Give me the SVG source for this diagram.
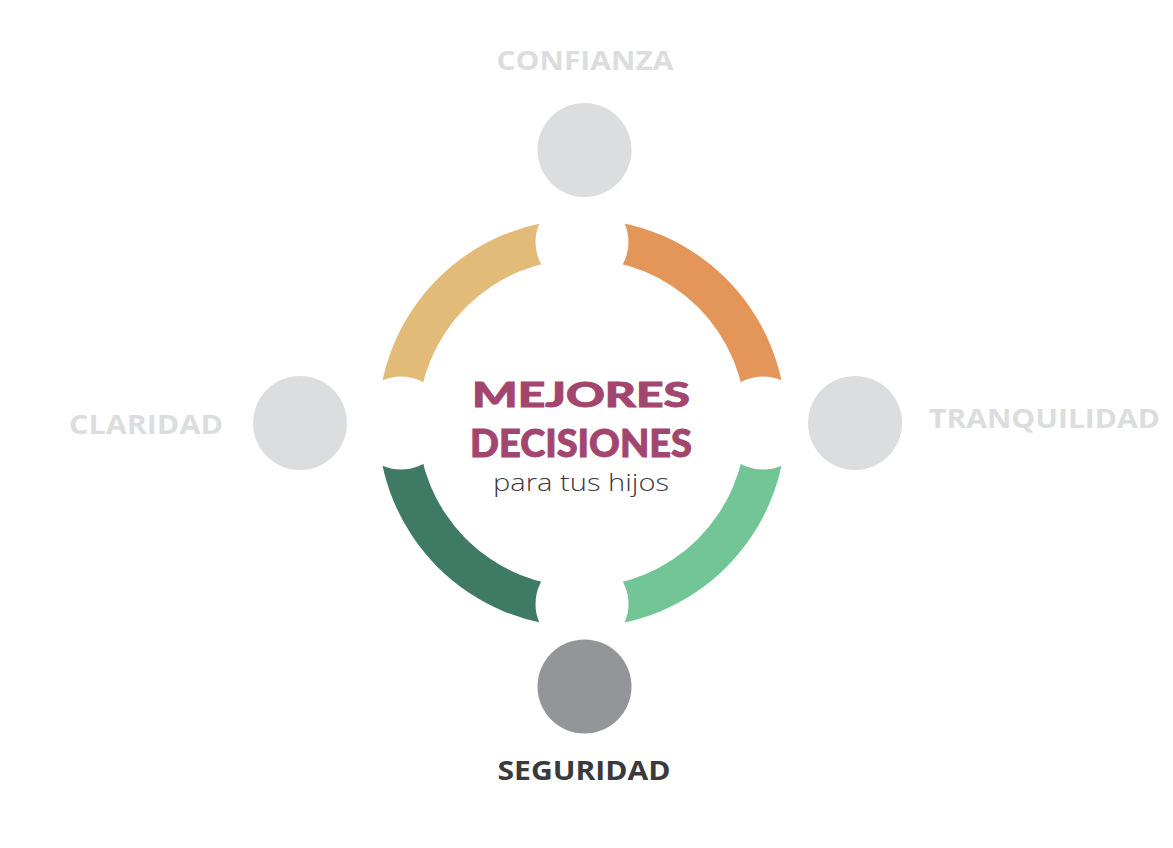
<svg xmlns="http://www.w3.org/2000/svg" width="1173" height="848" viewBox="0 0 1173 848">
<style>
.lbl{font-family:"Open Sans","Liberation Sans",sans-serif;font-weight:700;font-size:27px;text-anchor:middle}
.light{fill:#dcdddf}
.dark{fill:#3a3a3c}
.title{font-family:Lato,"Open Sans","Liberation Sans",sans-serif;font-weight:900;fill:#a3466f;stroke:#a3466f;stroke-width:0.9;text-anchor:middle}
.sub{font-family:"Open Sans","Liberation Sans",sans-serif;font-weight:300;fill:#3a3a3c;font-size:24px;text-anchor:middle}
.notch{fill:#ffffff}
</style>
<rect width="1173" height="848" fill="#ffffff"/>
<g id="connectors">
<path d="M378,423 A204,204 0 0 1 582,219 L582,259 A164,164 0 0 0 418,423 Z" fill="#e3bb78"/>
<path d="M582,219 A204,204 0 0 1 786,423 L746,423 A164,164 0 0 0 582,259 Z" fill="#e4955a"/>
<path d="M786,423 A204,204 0 0 1 582,627 L582,587 A164,164 0 0 0 746,423 Z" fill="#72c594"/>
<path d="M582,627 A204,204 0 0 1 378,423 L418,423 A164,164 0 0 0 582,587 Z" fill="#3e7a64"/>
<circle class="notch" cx="582" cy="242" r="46.5"/>
<circle class="notch" cx="582" cy="604" r="46.5"/>
<circle class="notch" cx="401" cy="423" r="46.5"/>
<circle class="notch" cx="763" cy="423" r="46.5"/>
</g>
<g id="center">
<text class="title" x="581" y="407" font-size="35" textLength="218" lengthAdjust="spacingAndGlyphs">MEJORES</text>
<text class="title" x="581" y="457" font-size="37" textLength="222" lengthAdjust="spacingAndGlyphs">DECISIONES</text>
<text class="sub" x="581" y="491" textLength="176" lengthAdjust="spacingAndGlyphs">para tus hijos</text>
</g>
<g id="confianza">
<circle cx="584.5" cy="150" r="47" fill="#dcdddf"/>
<text class="lbl light" x="585" y="70" textLength="177" lengthAdjust="spacingAndGlyphs">CONFIANZA</text>
</g>
<g id="claridad">
<circle cx="300" cy="423" r="47" fill="#dcdddf"/>
<text class="lbl light" x="146" y="434" textLength="154" lengthAdjust="spacingAndGlyphs">CLARIDAD</text>
</g>
<g id="tranquilidad">
<circle cx="855" cy="423" r="47" fill="#dcdddf"/>
<text class="lbl light" x="1044.5" y="428" textLength="231" lengthAdjust="spacingAndGlyphs">TRANQUILIDAD</text>
</g>
<g id="seguridad">
<circle cx="584.5" cy="686.5" r="47" fill="#939598"/>
<text class="lbl dark" x="584" y="780" textLength="173" lengthAdjust="spacingAndGlyphs">SEGURIDAD</text>
</g>
</svg>
